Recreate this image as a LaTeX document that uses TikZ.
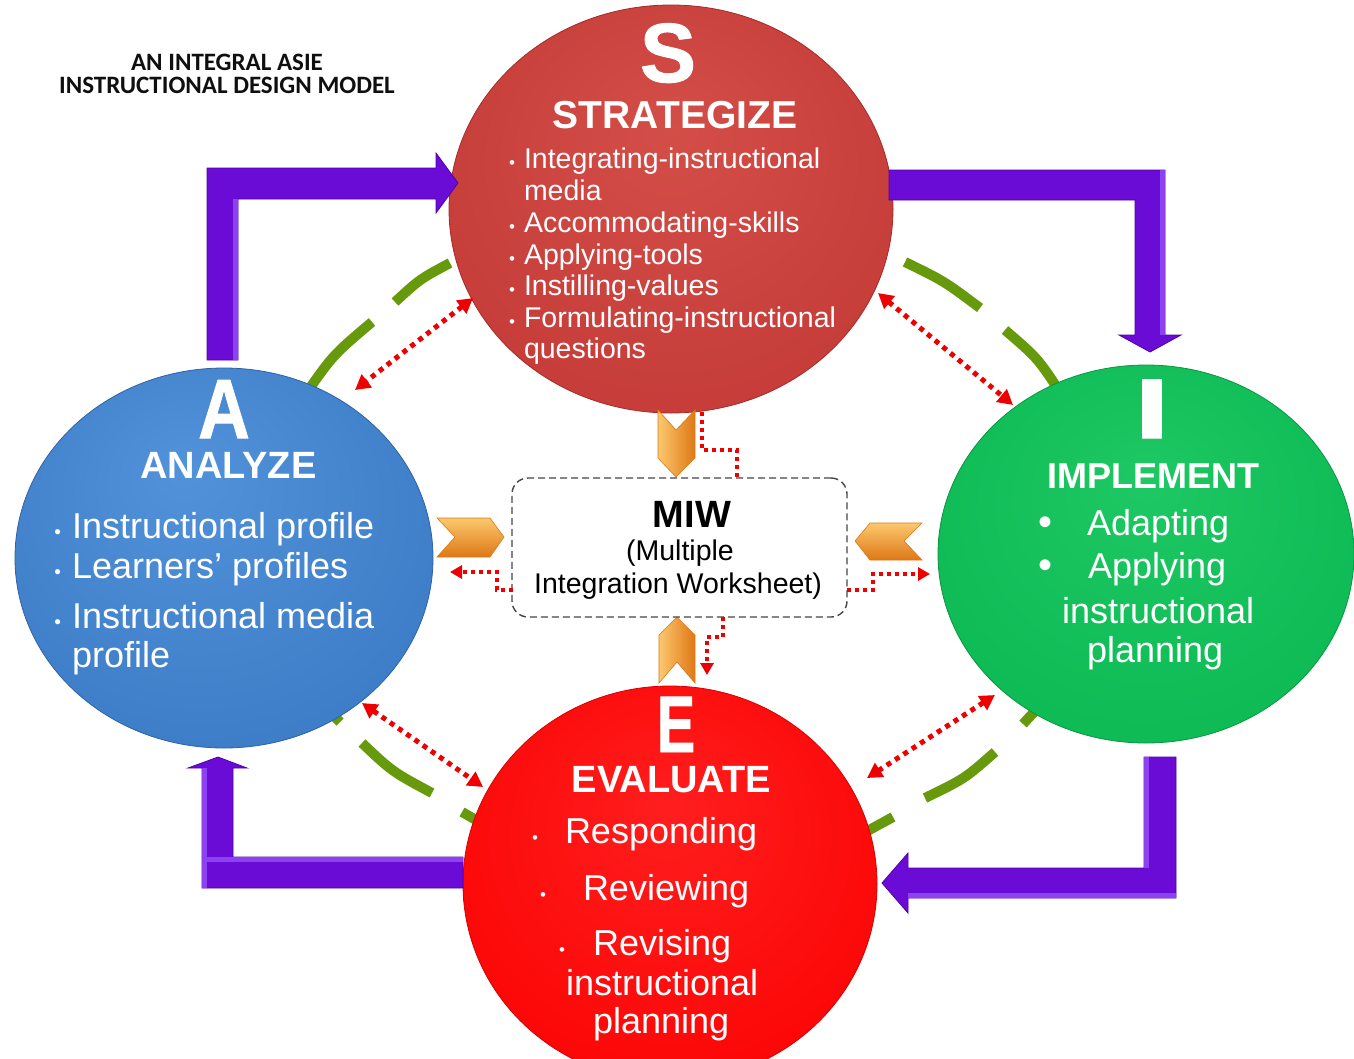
\documentclass[tikz,border=0pt]{standalone}
\usepackage{fontspec}
\usepackage{graphicx}
\setmainfont{Liberation Sans}
\newfontfamily\titlefont{Carlito}
\newfontfamily\heavyfont{Liberation Sans Bold}[FakeBold=1.2]
\usetikzlibrary{shapes.geometric,arrows.meta}

\definecolor{sC}{RGB}{212,78,72}
\definecolor{sM}{RGB}{197,60,56}
\definecolor{sR}{RGB}{168,42,40}
\definecolor{aC}{RGB}{82,146,218}
\definecolor{aM}{RGB}{62,126,200}
\definecolor{aR}{RGB}{46,98,165}
\definecolor{iC}{RGB}{30,200,100}
\definecolor{iM}{RGB}{13,186,84}
\definecolor{iR}{RGB}{10,150,66}
\definecolor{eC}{RGB}{255,30,30}
\definecolor{eM}{RGB}{252,6,6}
\definecolor{eR}{RGB}{215,0,0}
\definecolor{arcgreen}{RGB}{102,153,12}
\definecolor{purp}{RGB}{106,12,214}
\definecolor{purpdk}{RGB}{82,0,170}
\definecolor{purplt}{RGB}{150,80,250}
\definecolor{orngdk}{RGB}{222,120,22}
\definecolor{ornglt}{RGB}{252,200,110}
\definecolor{dotred}{RGB}{238,0,0}
\definecolor{miwgray}{RGB}{70,70,70}
\definecolor{titleblack}{RGB}{15,15,15}

\pgfdeclareradialshading{shS}{\pgfpoint{0bp}{10bp}}{color(0bp)=(sC); color(30bp)=(sM); color(50bp)=(sR)}
\pgfdeclareradialshading{shA}{\pgfpoint{-5bp}{12bp}}{color(0bp)=(aC); color(30bp)=(aM); color(55bp)=(aR)}
\pgfdeclareradialshading{shI}{\pgfpoint{0bp}{10bp}}{color(0bp)=(iC); color(30bp)=(iM); color(50bp)=(iR)}
\pgfdeclareradialshading{shE}{\pgfpoint{0bp}{10bp}}{color(0bp)=(eC); color(30bp)=(eM); color(50bp)=(eR)}

\newcommand\myfs[1]{\fontsize{#1}{#1}\selectfont}
\newcommand\bul[2]{\llap{\myfs{#1}•\hspace{#2pt}}}

\begin{document}
\begin{tikzpicture}[x=1pt,y=-1pt,
  circ/.style={ellipse,inner sep=0pt,outer sep=0pt,line width=0.8pt},
  lbl/.style={inner sep=0pt,outer sep=0pt,anchor=base west,text=white},
  head/.style={inner sep=0pt,outer sep=0pt,anchor=base,text=white},
  arcdash/.style={draw=arcgreen,line width=10pt},
  reddot/.style={draw=dotred,line width=5pt,dash pattern=on 5pt off 5pt,{Triangle[length=15pt,width=16pt]}-{Triangle[length=15pt,width=16pt]}},
  smalldot/.style={draw=dotred,line width=4pt,dash pattern=on 4pt off 4pt},
  smalltip/.style={-{Triangle[length=12pt,width=13pt]}},
  purarrow/.style={fill=purp,draw=purpdk,line width=0.8pt,line join=miter},
  purhl/.style={fill=purplt,opacity=0.8},
  chevv/.style={left color=ornglt,right color=orngdk,draw=orngdk,line width=0.6pt},
  chevh/.style={top color=ornglt,bottom color=orngdk,draw=orngdk,line width=0.6pt},
  miwbox/.style={draw=miwgray,line width=1.4pt,dash pattern=on 7pt off 4pt,rounded corners=16pt,minimum width=335pt,minimum height=139pt,inner sep=0pt}
]
\useasboundingbox (0,0) rectangle (1354,1058);
\clip (0,0) rectangle (1354,1058);
\fill[white] (0,0) rectangle (1354,1058);

% green dashed ring (behind the circles)
\draw[arcdash] (305,395) .. controls (333,355) .. (372,322);
\draw[arcdash] (395,302) .. controls (420,279) .. (450,263);
\draw[arcdash] (905,262) .. controls (944,281) .. (980,308);
\draw[arcdash] (1005,330) .. controls (1037.5,358) .. (1060,392);
\draw[arcdash] (1047,698) -- (1023,724);
\draw[arcdash] (995,752) .. controls (964.7,778.7) .. (925,798);
\draw[arcdash] (893,817) -- (860,835);
\draw[arcdash] (462,812) -- (485,825);
\draw[arcdash] (432,793) .. controls (392.2,771.6) .. (362,743);
\draw[arcdash] (340,722) -- (313,695);

% circles
\node[circ,minimum width=444pt,minimum height=408pt,shade,shading=shS,draw=sR] (S) at (671,209) {};
\node[circ,minimum width=418pt,minimum height=380pt,shade,shading=shA,draw=aR] (A) at (224,558) {};
\node[circ,minimum width=416pt,minimum height=378pt,shade,shading=shI,draw=iR] (I) at (1146,554) {};
\node[circ,minimum width=414pt,minimum height=396pt,shade,shading=shE,draw=eR] (E) at (670,884) {};

% purple cycle arrows
\draw[purarrow] (207,360) -- (207,168) -- (436,168) -- (436,153) -- (458,183) -- (436,213) -- (436,199) -- (238,199) -- (238,360) -- cycle;
\fill[purhl] (233,199) rectangle (238,360);
\draw[purarrow] (889,170) -- (1165,170) -- (1165,335) -- (1181,335) -- (1150,352) -- (1119,335) -- (1135,335) -- (1135,200) -- (889,200) -- cycle;
\fill[purhl] (1160,170) rectangle (1165,335);
\draw[purarrow] (1144,757) -- (1176,757) -- (1176,898) -- (908,898) -- (908,913) -- (882,883) -- (908,853) -- (908,868) -- (1144,868) -- cycle;
\fill[purhl] (1144,757) rectangle (1149,868);
\fill[purhl] (908,893) rectangle (1176,898);
\draw[purarrow] (463,857) -- (463,888) -- (202,888) -- (202,768) -- (188,768) -- (218,757) -- (247,768) -- (233,768) -- (233,857) -- cycle;
\fill[purhl] (202,768) rectangle (207,888);
\fill[purhl] (207,857) rectangle (463,862);

% red dotted double arrows between circles
\coordinate (sa1) at (473,298); \coordinate (sa2) at (355,390);
\coordinate (si1) at (878,293); \coordinate (si2) at (1013,405);
\coordinate (ae1) at (362,703); \coordinate (ae2) at (483,787);
\coordinate (ie1) at (995,695); \coordinate (ie2) at (867,778);
\draw[reddot] (sa1) -- (sa2);
\draw[reddot] (si1) -- (si2);
\draw[reddot] (ae1) -- (ae2);
\draw[reddot] (ie1) -- (ie2);

% orange chevrons
\draw[chevv] (658,410) -- (676,430) -- (695,410) -- (695,458) -- (676,477) -- (658,458) -- cycle;
\draw[chevv] (659,635) -- (677,617) -- (695,635) -- (695,683) -- (677,662) -- (659,683) -- cycle;
\draw[chevh] (437,518) -- (490,518) -- (504,537) -- (490,557) -- (437,557) -- (455,537) -- cycle;
\draw[chevh] (922,523) -- (870,523) -- (855,541) -- (870,560) -- (922,560) -- (904,541) -- cycle;

% MIW box
\node[miwbox] (miw) at (679.5,547.5) {};

% small dotted elbows
\draw[smalldot] (702,412) |- (737,450) -- (737,478);
\draw[smalldot,smalltip] (513,590) -- (497,590) -- (497,572) -- (450,572);
\draw[smalldot,smalltip] (847,590) -- (873,590) -- (873,574) -- (930,574);
\draw[smalldot,smalltip] (723,617) -- (723,637) -- (707,637) -- (707,675);

% title
\node[inner sep=0pt,anchor=base,text=titleblack,font=\titlefont\bfseries\myfs{25}] (t1) at (227,70) {AN INTEGRAL ASIE};
\node[inner sep=0pt,anchor=base,text=titleblack,font=\titlefont\bfseries\myfs{25}] (t2) at (227,93) {INSTRUCTIONAL DESIGN MODEL};

% S texts
\node[head,font=\heavyfont\myfs{84}] (Sl) at (668,82) {S};
\node[head,font=\bfseries\myfs{39}] (Sh) at (675,128) {STRATEGIZE};
\node[lbl,font=\myfs{28.5}] (s1) at (524,168) {\bul{17}{9}Integrating-instructional};
\node[lbl,font=\myfs{28.5}] (s2) at (524,200) {media};
\node[lbl,font=\myfs{28.5}] (s3) at (524,232) {\bul{17}{9}Accommodating-skills};
\node[lbl,font=\myfs{28.5}] (s4) at (524,264) {\bul{17}{9}Applying-tools};
\node[lbl,font=\myfs{28.5}] (s5) at (524,295) {\bul{17}{9}Instilling-values};
\node[lbl,font=\myfs{28.5}] (s6) at (524,327) {\bul{17}{9}Formulating-instructional};
\node[lbl,font=\myfs{28.5}] (s7) at (524,358) {questions};

% A texts
\node[head,font=\heavyfont\myfs{84}] (Al) at (224,438) {\scalebox{0.85}[1]{A}};
\node[head,font=\bfseries\myfs{38}] (Ah) at (228.5,478) {ANALYZE};
\node[lbl,font=\myfs{36}] (a1) at (72,538) {\bul{19}{11}Instructional profile};
\node[lbl,font=\myfs{36}] (a2) at (72,578) {\bul{19}{11}Learners’ profiles};
\node[lbl,font=\myfs{36}] (a3) at (72,628) {\bul{19}{11}Instructional media};
\node[lbl,font=\myfs{36}] (a4) at (72,667) {profile};

% I texts
\node[head,font=\heavyfont\myfs{85}] (Il) at (1152,438) {\scalebox{1.5}[1]{I}};
\node[head,font=\bfseries\myfs{36}] (Ih) at (1153.5,488) {IMPLEMENT};
\node[lbl,font=\myfs{36}] (i1) at (1087,535) {\bul{40}{35}Adapting};
\node[lbl,font=\myfs{36}] (i2) at (1088,578) {\bul{40}{36}Applying};
\node[lbl,font=\myfs{36}] (i3) at (1062,623) {instructional};
\node[lbl,font=\myfs{36}] (i4) at (1087,662) {planning};

% E texts
\node[head,font=\heavyfont\myfs{80}] (El) at (676,752) {\scalebox{0.72}[1]{E}};
\node[head,font=\bfseries\myfs{38}] (Eh) at (671.5,792) {EVALUATE};
\node[lbl,font=\myfs{36}] (e1) at (565,843) {\bul{17}{27}Responding};
\node[lbl,font=\myfs{36}] (e2) at (583,900) {\bul{17}{37}Reviewing};
\node[lbl,font=\myfs{36}] (e3) at (593,955) {\bul{17}{28}Revising};
\node[lbl,font=\myfs{36}] (e4) at (566,995) {instructional};
\node[lbl,font=\myfs{36}] (e5) at (593,1033) {planning};

% MIW texts
\node[head,text=black,font=\bfseries\myfs{38}] (m1) at (692,527) {MIW};
\node[head,text=black,font=\myfs{28.5}] (m2) at (680,560) {(Multiple};
\node[head,text=black,font=\myfs{28.5}] (m3) at (678,593) {Integration Worksheet)};
\end{tikzpicture}
\end{document}
